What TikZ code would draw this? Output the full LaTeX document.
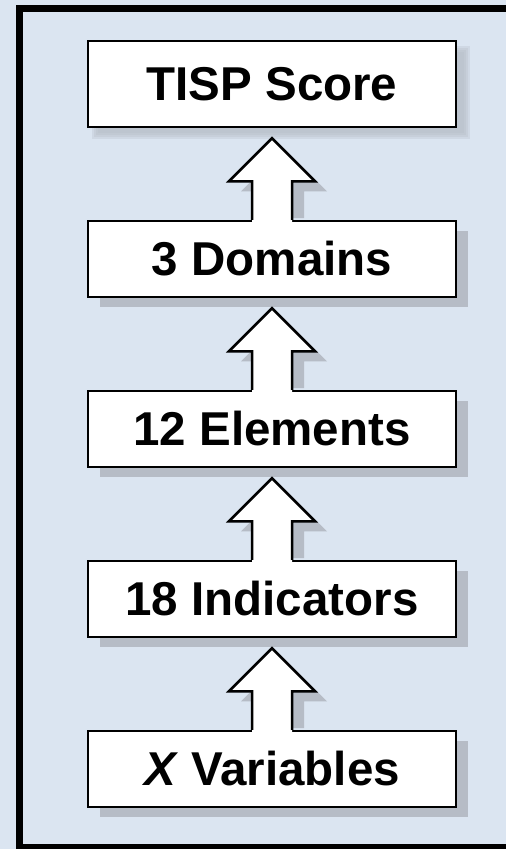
\documentclass[tikz,border=0pt]{standalone}
\usepackage{fontspec}
\setmainfont{Liberation Sans}
\usetikzlibrary{calc,shadows}
\definecolor{bgblue}{HTML}{DBE5F1}
\definecolor{shgray}{HTML}{B6BCC6}
\newcommand\blockarrow[2]{%
  % shadow
  \fill[shgray] ($(#1.north)+(-8,-1.6)$) -- ($(#2.south)+(-8,63)$) -- ($(#2.south)+(-31,63)$)
    -- ($(#2.south)+(12,20)$) -- ($(#2.south)+(55,63)$) -- ($(#2.south)+(32,63)$)
    -- ($(#1.north)+(32,-1.6)$) -- cycle;
  % body
  \fill[white] ($(#1.north)+(-20,2)$) -- ($(#2.south)+(-20,53)$) -- ($(#2.south)+(-43,53)$)
    -- ($(#2.south)+(0,10)$) -- ($(#2.south)+(43,53)$) -- ($(#2.south)+(20,53)$)
    -- ($(#1.north)+(20,2)$) -- cycle;
  \draw[arrowline] ($(#1.north)+(-20,0)$) -- ($(#2.south)+(-20,53)$) -- ($(#2.south)+(-43,53)$)
    -- ($(#2.south)+(0,10)$) -- ($(#2.south)+(43,53)$) -- ($(#2.south)+(20,53)$)
    -- ($(#1.north)+(20,0)$);
}
\begin{document}
\begin{tikzpicture}[x=1pt,y=-1pt,
  levelbox/.style={draw=black, line width=2.5pt, fill=white, minimum width=368pt,
    minimum height=76pt, inner sep=0pt,
    font=\fontsize{47.5}{50}\selectfont\bfseries},
  hardshadow/.style={drop shadow={shadow xshift=12pt, shadow yshift=-10pt, fill=shgray, opacity=1}},
  softlayer/.style={fill=shgray, opacity=0.3},
  arrowline/.style={line width=2.5pt, line join=miter, draw=black}]
\useasboundingbox (0,0) rectangle (506,849);
\fill[bgblue] (0,0) rectangle (506,849);
\draw[line width=7pt] (506,8.5) -- (19.5,8.5) -- (19.5,847.5) -- (506,847.5);

% soft shadow of the top box
\foreach \r in {0,2,4,6}{
  \fill[softlayer] (92+\r,46+\r) rectangle (470-\r,139-\r);
}
\node[levelbox, minimum height=86pt] (tisp) at (272,84) {TISP Score};
\node[levelbox, hardshadow] (dom) at (272,259) {3 Domains};
\node[levelbox, hardshadow] (ele) at (272,429) {12 Elements};
\node[levelbox, hardshadow] (ind) at (272,599) {18 Indicators};
\node[levelbox, hardshadow] (var) at (272,769) {\textit{X} Variables};

\blockarrow{dom}{tisp}
\blockarrow{ele}{dom}
\blockarrow{ind}{ele}
\blockarrow{var}{ind}

% open right side of the frame
\fill[bgblue] (480,12) rectangle (506,844);
\end{tikzpicture}
\end{document}
